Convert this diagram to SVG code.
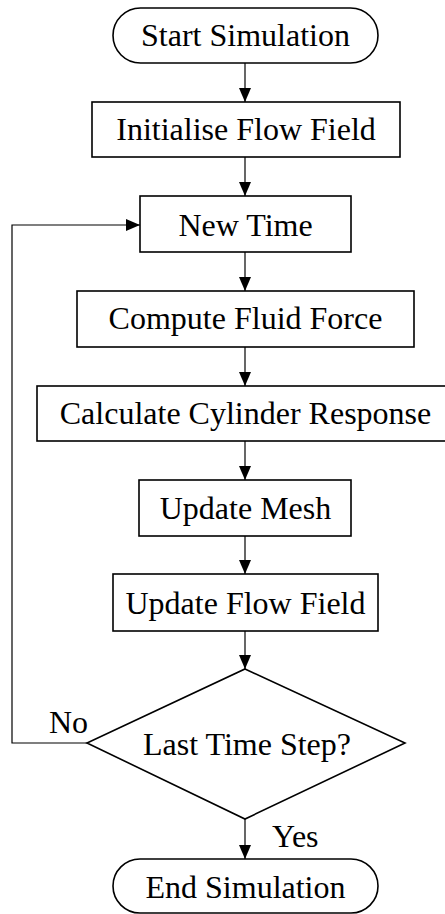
<svg xmlns="http://www.w3.org/2000/svg" width="445" height="914" viewBox="0 0 445 914">
<style>
.n{fill:#fff;stroke:#000;stroke-width:1.6}
.t{font-family:"Liberation Serif","Times New Roman",serif;font-size:32px;fill:#000;text-anchor:middle}
.l{font-family:"Liberation Serif","Times New Roman",serif;font-size:32px;fill:#000}
.c{fill:none;stroke:#000;stroke-width:1.2}
</style>
<defs>
<marker id="a" markerUnits="userSpaceOnUse" markerWidth="14" markerHeight="16" refX="14" refY="6" orient="auto">
<path d="M0,0 L14,6 L0,12 Z" fill="#000"/>
</marker>
</defs>
<g id="connectors">
<path class="c" d="M245,63 V102" marker-end="url(#a)"/>
<path class="c" d="M245,157 V196" marker-end="url(#a)"/>
<path class="c" d="M245,252 V291" marker-end="url(#a)"/>
<path class="c" d="M245,347 V386" marker-end="url(#a)"/>
<path class="c" d="M245,441 V480" marker-end="url(#a)"/>
<path class="c" d="M245,536 V574" marker-end="url(#a)"/>
<path class="c" d="M245,631 V669" marker-end="url(#a)"/>
<path class="c" d="M245,819 V859" marker-end="url(#a)"/>
<path class="c" d="M87,743 H12 V225 H140" marker-end="url(#a)"/>
<text class="l" x="49" y="733">No</text>
<text class="l" x="272" y="847">Yes</text>
</g>
<g id="start">
<rect class="n" x="113" y="8" width="265" height="55" rx="27.5"/>
<text class="t" x="245.5" y="46">Start Simulation</text>
</g>
<g id="init">
<rect class="n" x="92" y="102" width="308" height="55"/>
<text class="t" x="246" y="140">Initialise Flow Field</text>
</g>
<g id="newtime">
<rect class="n" x="140" y="196" width="211" height="56"/>
<text class="t" x="245.5" y="236">New Time</text>
</g>
<g id="force">
<rect class="n" x="77" y="291" width="337" height="56"/>
<text class="t" x="245.5" y="329">Compute Fluid Force</text>
</g>
<g id="response">
<rect class="n" x="37" y="386" width="410" height="55"/>
<text class="t" x="245.5" y="424">Calculate Cylinder Response</text>
</g>
<g id="mesh">
<rect class="n" x="139" y="480" width="212" height="56"/>
<text class="t" x="245.5" y="519">Update Mesh</text>
</g>
<g id="flow">
<rect class="n" x="113" y="574" width="265" height="57"/>
<text class="t" x="245.5" y="614">Update Flow Field</text>
</g>
<g id="decision">
<path class="n" d="M245,669 L405,743 L245,819 L87,743 Z"/>
<text class="t" x="247" y="755">Last Time Step?</text>
</g>
<g id="end">
<rect class="n" x="113" y="859" width="265" height="54" rx="27"/>
<text class="t" x="245.5" y="898">End Simulation</text>
</g>
</svg>
